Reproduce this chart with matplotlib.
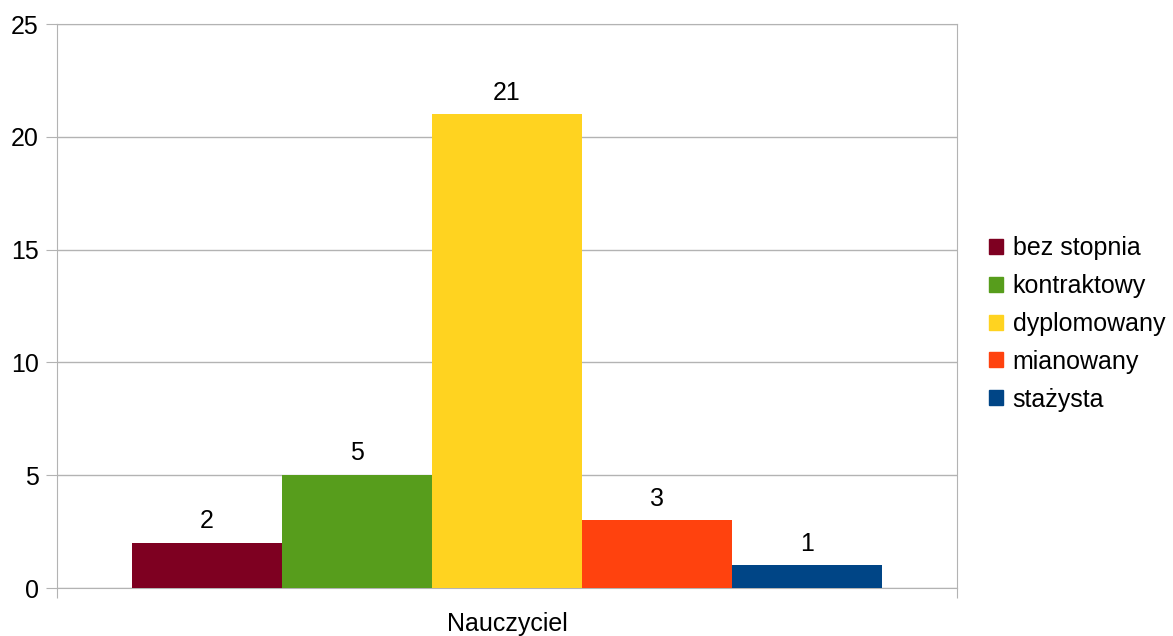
import matplotlib.pyplot as plt
from matplotlib.patches import Patch

plt.rcParams['font.family'] = ['Liberation Sans', 'DejaVu Sans']

category = "Nauczyciel"
series = ["bez stopnia", "kontraktowy", "dyplomowany", "mianowany", "stażysta"]
values = [2, 5, 21, 3, 1]
colors = ["#7E0021", "#579D1C", "#FFD320", "#FF420E", "#004586"]

W, H = 1173, 636
fs = 18
fig = plt.figure(figsize=(W / 100, H / 100), dpi=100)
ax = fig.add_axes([57 / W, (H - 588) / H, 900 / W, 564 / H])

n = len(series)
bw = 1 / 6
offsets = [(i - (n - 1) / 2) * bw for i in range(n)]
for off, v, c in zip(offsets, values, colors):
    b = ax.bar(off, v, width=bw, color=c, zorder=3)
    ax.bar_label(b, labels=[str(v)], padding=7, fontsize=fs)

ax.set_xlim(-0.5, 0.5)
ax.set_ylim(0, 25)
ax.set_yticks([0, 5, 10, 15, 20, 25])
ax.grid(axis='y', color='#b3b3b3', linewidth=1, zorder=0)
for s in ax.spines.values():
    s.set_color('#b3b3b3')
ax.tick_params(axis='y', length=8, color='#b3b3b3', labelsize=fs, pad=5)

ax.set_xticks([-0.5, 0.5])
ax.set_xticklabels(['', ''])
ax.tick_params(axis='x', which='major', length=7.5, color='#b3b3b3')
ax.set_xticks([0], minor=True)
ax.set_xticklabels([category], minor=True, fontsize=fs)
ax.tick_params(axis='x', which='minor', length=0, pad=17.5)

handles = [Patch(facecolor=c, edgecolor=c) for c in colors]
fig.legend(handles, series, loc='center left', bbox_to_anchor=(989 / W, (H - 324) / H),
           frameon=False, fontsize=fs, handlelength=0.55, handleheight=0.55,
           handletextpad=0.4, labelspacing=0.55, borderpad=0, borderaxespad=0)

fig.savefig("out.png", dpi=100)
